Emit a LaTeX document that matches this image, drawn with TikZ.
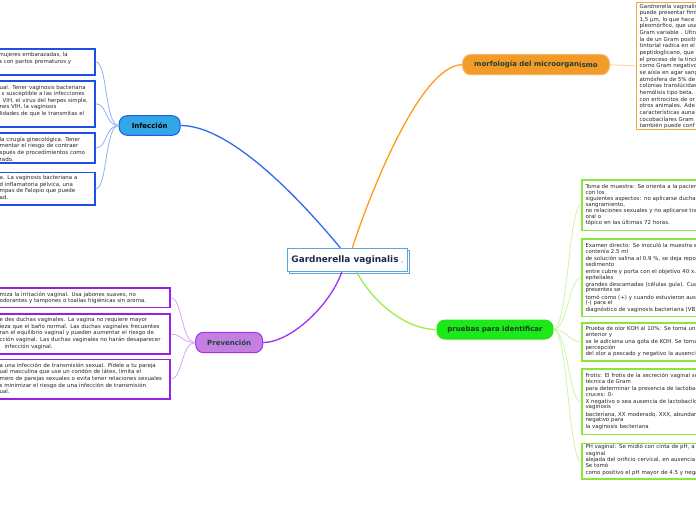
\documentclass[tikz,border=0pt]{standalone}
\usepackage{fontspec}
\setmainfont{DejaVu Sans}
\usetikzlibrary{shadows}
\definecolor{infFill}{HTML}{33A6E6}
\definecolor{infDraw}{HTML}{1E5EE6}
\definecolor{infLine}{HTML}{2F6AF0}
\definecolor{infThin}{HTML}{8FB2FA}
\definecolor{infBox}{HTML}{1F4FE6}
\definecolor{prvFill}{HTML}{C47FE0}
\definecolor{prvDraw}{HTML}{A033EE}
\definecolor{prvLine}{HTML}{A22EF2}
\definecolor{prvThin}{HTML}{D9A3F7}
\definecolor{prvBox}{HTML}{9A1FE6}
\definecolor{prvText}{HTML}{1B4444}
\definecolor{morFill}{HTML}{F39B2A}
\definecolor{morDraw}{HTML}{F7B457}
\definecolor{morLine}{HTML}{FF9A1A}
\definecolor{morThin}{HTML}{FCD9A8}
\definecolor{morBox}{HTML}{F5A83A}
\definecolor{morText}{HTML}{23402A}
\definecolor{prbFill}{HTML}{1AEA1A}
\definecolor{prbDraw}{HTML}{33DD11}
\definecolor{prbLine}{HTML}{9AF04C}
\definecolor{prbThin}{HTML}{CDF5A8}
\definecolor{prbBox}{HTML}{8AE63C}
\definecolor{prbText}{HTML}{183818}
\definecolor{cenDraw}{HTML}{5AA6DC}
\definecolor{cenText}{HTML}{1A2B4C}
\definecolor{txtGray}{HTML}{262626}
\tikzset{
  branch/.style={rounded corners=8pt, line width=1pt, inner sep=0pt,
    font=\fontsize{7}{8}\selectfont\bfseries},
  mainline/.style={line width=1.3pt},
  thinline/.style={line width=0.8pt},
  leafbox/.style={fill=white, inner sep=0pt, anchor=north west, line width=1.6pt},
  btxt/.style={inner sep=0pt, text width=300pt, align=left, anchor=north west,
    font=\fontsize{5.45}{6.6}\selectfont, text=txtGray},
  gtxt/.style={btxt, font=\fontsize{5.45}{5.6}\selectfont},
}
\newcommand\leaf[6]{%
  \node[leafbox, #2, minimum width={(#5)-(#3)}, minimum height={(#6)-(#4)}] (#1) at (#3,#4) {};}
\begin{document}
\begin{tikzpicture}[x=1pt,y=-1pt]
\useasboundingbox (0,0) rectangle (696,520);
\fill[white] (0,0) rectangle (696,520);
\clip (0,0) rectangle (696,520);

% central node
\node[draw=cenDraw, line width=1pt, fill=white, minimum width=120pt, minimum height=23.4pt,
  inner sep=0pt, text=cenText, font=\fontsize{8.9}{10}\selectfont\bfseries,
  copy shadow={shadow xshift=2.2pt, shadow yshift=-2.2pt, draw=cenDraw, fill=white, line width=1pt}]
  (c) at (347.3,260) {Gardnerella vaginalis\hspace{2.5pt}{\mdseries\fontsize{6.5}{7}\selectfont\color{gray!80!black},}};

% branch nodes
\node[branch, draw=infDraw, fill=infFill, minimum width=61pt, minimum height=19.6pt, text=black]
  (inf) at (149.7,125.5) {Infección};
\node[branch, draw=prvDraw, fill=prvFill, minimum width=67pt, minimum height=20.4pt, text=prvText]
  (prv) at (229.2,342.5) {Prevención};
\node[branch, draw=morDraw, fill=morFill, minimum width=146.6pt, minimum height=20pt, text=morText]
  (mor) at (536,64.7) {morfología del microorgan\raisebox{-0.6pt}{ismo}};
\node[branch, draw=prbDraw, fill=prbFill, minimum width=116pt, minimum height=19pt, text=prbText]
  (prb) at (495,329.5) {pruebas para identificar};

% main connectors
\draw[mainline, infLine] ([xshift=-7pt]c.north) .. controls +(-40,-48.3) and +(50,0) .. (inf.east);
\draw[mainline, morLine] ([xshift=5pt]c.north) .. controls +(15.7,-48.3) and +(-42.7,0) .. (mor.west);
\draw[mainline, prvLine] ([xshift=-5.6pt]c.south) .. controls +(-11.7,33.3) and +(27.3,0) .. (prv.east);
\draw[mainline, prbLine] ([xshift=9.4pt]c.south) .. controls +(15.3,28.3) and +(-32,0) .. (prb.west);

% Infección leaves
\leaf{i1}{draw=infBox}{-10}{48}{94}{74}
\leaf{i2}{draw=infBox}{-10}{80}{94}{126}
\leaf{i3}{draw=infBox}{-10}{132.3}{94}{162.3}
\leaf{i4}{draw=infBox}{-10}{171.7}{94}{204.3}
\node[btxt] (i1t) at (-1.5,52.1) {mujeres embarazadas, la\\a con partos prematuros y};
\node[btxt] (i2t) at (-0.5,84.7) {ual. Tener vaginosis bacteriana\\\hspace*{2pt}s susceptible a las infecciones\\\hspace*{3pt}VIH, el virus del herpes simple,\\nes VIH, la vaginosis\\lidades de que le transmitas el};
\node[btxt] (i3t) at (-0.5,136.7) {la cirugía ginecológica. Tener\\mentar el riesgo de contraer\\spués de procedimientos como\\rado.};
\node[btxt] (i4t) at (-0.5,175.1) {a. La vaginosis bacteriana a\\d inflamatoria pélvica, una\\mpas de Falopio que puede\\ad.};
\foreach \n in {i1,i2,i3,i4}
  \draw[thinline, infThin] (inf.west) .. controls +(-14,0) and +(12,0) .. (\n.east);

% Prevención leaves
\leaf{p1}{draw=prvBox}{-10}{287.3}{169}{306.7}
\leaf{p2}{draw=prvBox}{-10}{313.3}{169}{353.3}
\leaf{p3}{draw=prvBox}{-10}{358.7}{169}{398.3}
\node[btxt] (p1t) at (-0.5,291.7) {miza la irritación vaginal. Usa jabones suaves, no\\odorantes y tampones o toallas higiénicas sin aroma.};
\node[btxt] (p2t) at (-0.5,317.4) {e des duchas vaginales. La vagina no requiere mayor\\ieza que el baño normal. Las duchas vaginales frecuentes\\ran el equilibrio vaginal y pueden aumentar el riesgo de\\cción vaginal. Las duchas vaginales no harán desaparecer\\\hspace*{5pt}infección vaginal.};
\node[btxt] (p3t) at (-0.5,362.7) {a una infección de transmisión sexual. Pídele a tu pareja\\ual masculina que use un condón de látex, limita el\\mero de parejas sexuales o evita tener relaciones sexuales\\s minimizar el riesgo de una infección de transmisión\\ual.};
\foreach \n in {p1,p2,p3}
  \draw[thinline, prvThin] (prv.west) .. controls +(-14,0) and +(12,0) .. (\n.east);

% morfología leaf
\leaf{ob}{draw=morBox, line width=1.2pt}{635.5}{1.7}{760}{128.7}
\node[btxt, font=\fontsize{5.45}{6.65}\selectfont] (obt) at (639.5,3.7) {Gardnerella vaginalis\\puede presentar fimbrias\\1,5 µm, lo que hace\\pleomórfico, que usa\\Gram variable . Ultra\\la de un Gram positivo\\tintorial radica en el\\peptidoglicano, que\\el proceso de la tinción\\como Gram negativo\\se aísla en agar sangre\\atmósfera de 5\% de\\colonias translúcidas\\hemólisis tipo beta.\\con eritrocitos de or\\otros animales. Ade\\características auna\\cocobacilares Gram\\también puede conf};
\draw[thinline, morThin, line width=1pt] (mor.east) -- (ob.west);

% pruebas leaves
\leaf{g1}{draw=prbBox}{581}{179}{760}{229.5}
\leaf{g2}{draw=prbBox}{581}{238.3}{760}{315.5}
\leaf{g3}{draw=prbBox}{581}{322}{760}{360}
\leaf{g4}{draw=prbBox}{581}{368.3}{760}{433.7}
\leaf{g5}{draw=prbBox}{581}{442.7}{760}{478}
\node[gtxt] (g1t) at (585.3,184.1) {Toma de muestra: Se orienta a la paciente\\[0.4pt]con los\\[0.4pt]siguientes aspectos: no aplicarse ducha\\[0.4pt]sangramiento,\\[0.4pt]no relaciones sexuales y no aplicarse tratamiento\\[0.4pt]oral o\\[0.4pt]tópico en las últimas 72 horas.};
\node[gtxt] (g2t) at (585.3,243.4) {Examen directo: Se inoculó la muestra en\\contenía 2.5 ml\\[1.6pt]de solución salina al 0.9 \%, se deja reposar\\sedimento\\[1.6pt]entre cubre y porta con el objetivo 40 x.\\epiteliales\\[1.6pt]grandes descamadas (células guía). Cuando\\presentes se\\[1.6pt]tomó como (+) y cuando estuvieron ausentes\\(-) para el\\[1.6pt]diagnóstico de vaginosis bacteriana (VB)};
\node[gtxt] (g3t) at (585.3,326.4) {Prueba de olor KOH al 10\%: Se toma una\\[0.4pt]anterior y\\[1.4pt]se le adiciona una gota de KOH. Se toma\\[0.1pt]percepción\\[0.4pt]del olor a pescado y negativo la ausencia};
\node[gtxt] (g4t) at (585.3,373.1) {Frotis: El frotis de la secreción vaginal se\\técnica de Gram\\[1.8pt]para determinar la presencia de lactobacilos\\cruces: 0-\\[1.5pt]X negativo o sea ausencia de lactobacilos\\vaginosis\\[1.5pt]bacteriana, XX moderado, XXX, abundante\\negativo para\\[1.6pt]la vaginosis bacteriana};
\node[gtxt] (g5t) at (585.3,444.4) {PH vaginal: Se midió con cinta de pH, a\\[0.7pt]vaginal\\[1.1pt]alejada del orificio cervical, en ausencia\\[0.1pt]Se tomó\\[1pt]como positivo el pH mayor de 4.5 y negativo};
\foreach \n in {g1,g2,g3,g4,g5}
  \draw[thinline, prbThin] (prb.east) .. controls +(14,0) and +(-12,0) .. (\n.west);
\end{tikzpicture}
\end{document}
